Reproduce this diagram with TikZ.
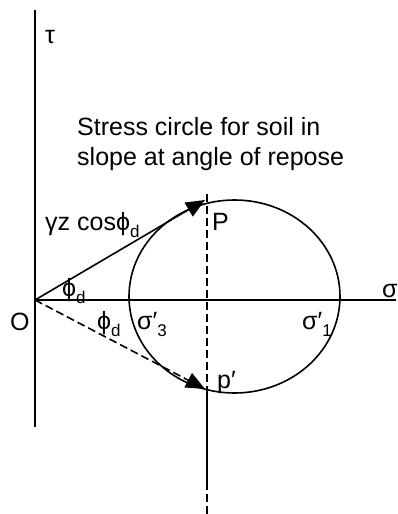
\documentclass[tikz,border=0pt]{standalone}
\usepackage{fontspec}
\setmainfont{Liberation Sans}
\usetikzlibrary{arrows.meta}
\newcommand{\lowidx}[1]{\raisebox{-0.28em}{\fontsize{17}{17}\selectfont #1}}
\begin{document}
\begin{tikzpicture}[x=1pt,y=-1pt,
  lbl/.style={anchor=base west,inner sep=0pt,font=\fontsize{25}{30}\selectfont},
  axis/.style={line width=1.8pt},
  thin/.style={line width=1.6pt},
  dsh/.style={line width=1.6pt,dash pattern=on 8pt off 4pt},
  tip/.style={-{Triangle[length=19pt,width=16pt]}}]
\useasboundingbox (0,0) rectangle (397,514);
% coordinates
\coordinate (Otop) at (35,10);
\coordinate (Obot) at (35,427);
\coordinate (O) at (35,300);
\coordinate (Send) at (396,300);
\coordinate (Vtop) at (207,194);
\coordinate (Vbot) at (207,514);
\coordinate (Pt) at (205,200);
\coordinate (Ppt) at (205,389);
\coordinate (Vs) at (207,389);
\coordinate (Ve) at (207,485);
\coordinate (C) at (234.5,296.5);
% axes
\draw[line width=2.4pt] (Otop) -- (Obot);
\draw[axis] (O) -- (Send);
% circle
\draw[thin] (C) ellipse [x radius=105.5, y radius=96.5];
% vertical line
\draw[dsh] (Vtop) -- (Vbot);
\draw[thin] (Vs) -- (Ve);
% arrows
\draw[thin,tip] (O) -- (Pt);
\draw[dsh,tip] (O) -- (Ppt);
% labels
\node[lbl] (tau) at (45,43) {τ};
\node[lbl] (t1) at (77,135) {Stress circle for soil in};
\node[lbl] (t2) at (77,165) {slope at angle of repose};
\node[lbl] (gz) at (45,230) {γz cosϕ\lowidx{d}};
\node[lbl] (P) at (212,230) {P};
\node[lbl] (phi1) at (62,296) {ϕ\lowidx{d}};
\node[lbl] (phi2) at (97,329) {ϕ\lowidx{d}};
\node[lbl] (Olbl) at (10,330) {O};
\node[lbl] (s3) at (137,329) {σ′\lowidx{3}};
\node[lbl] (s1) at (302,329) {σ′\lowidx{1}};
\node[lbl] (sig) at (382,297) {σ};
\node[lbl] (pp) at (217,388) {p′};
\end{tikzpicture}
\end{document}
